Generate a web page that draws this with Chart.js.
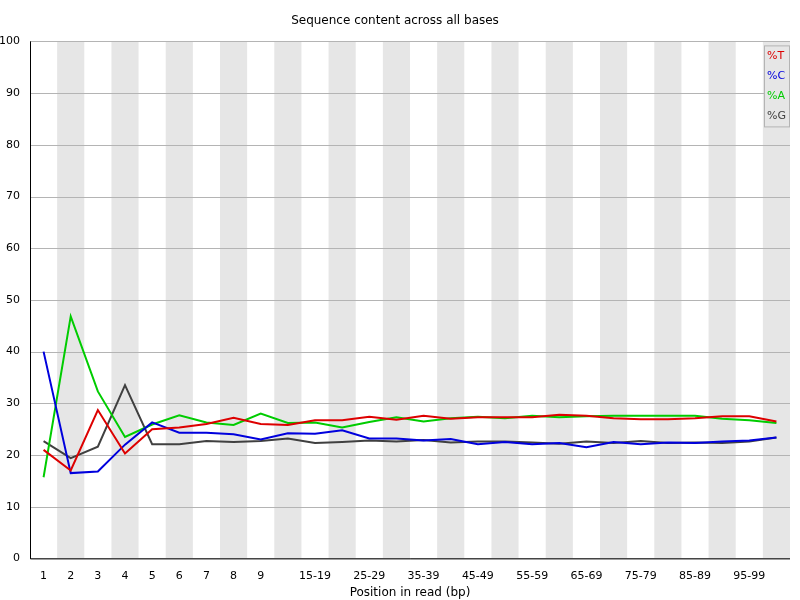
<!DOCTYPE html>
<html><head><meta charset="utf-8">
<script src="https://cdn.jsdelivr.net/npm/chart.js@4"></script>
<style>html,body{margin:0;background:#fff}#w{width:800px;height:600px}</style>
</head><body><div id="w"><canvas id="c"></canvas></div>
<script>
const categories=["1","2","3","4","5","6","7","8","9","10-14","15-19","20-24","25-29","30-34","35-39","40-44","45-49","50-54","55-59","60-64","65-69","70-74","75-79","80-84","85-89","90-94","95-99","100-101"];
const pctT=[21,17,28.7,20.3,25,25.3,26,27.2,26,25.8,26.7,26.7,27.4,26.8,27.6,27,27.3,27.3,27.3,27.8,27.6,27.1,26.9,26.9,27.1,27.5,27.5,26.5];
const pctC=[40,16.5,16.8,22,26.3,24.3,24.3,24,23,24.2,24.1,24.8,23.2,23.2,22.8,23.1,22.1,22.5,22.1,22.3,21.5,22.5,22.1,22.4,22.3,22.6,22.8,23.4];
const pctA=[15.7,46.8,32.3,23.5,25.9,27.7,26.3,25.8,28,26.2,26.3,25.3,26.4,27.3,26.5,27.1,27.4,27.1,27.6,27.3,27.5,27.6,27.6,27.6,27.6,27,26.7,26.2];
const pctG=[22.7,19.4,21.6,33.5,22.1,22.1,22.7,22.5,22.7,23.2,22.3,22.5,22.8,22.6,22.9,22.4,22.6,22.6,22.4,22.2,22.6,22.3,22.7,22.3,22.4,22.3,22.6,23.4];
const yTicks=[0,10,20,30,40,50,60,70,80,90,100];
const series=[["%T",pctT,"#dd0000"],["%C",pctC,"#0000dd"],["%A",pctA,"#00cc00"],["%G",pctG,"#404040"]];
const F="'DejaVu Sans',sans-serif";
const bands={id:"bands",beforeDatasetsDraw(ch){const {ctx,chartArea:a,scales:{x}}=ch;const w=a.width/categories.length;ctx.save();ctx.fillStyle="#e6e6e6";
for(let i=1;i<categories.length;i+=2)ctx.fillRect(a.left+i*w,a.top,w,a.height);
ctx.strokeStyle="#b4b4b4";ctx.lineWidth=1;const y=ch.scales.y;
yTicks.forEach(t=>{const py=Math.round(y.getPixelForValue(t))+0.5;ctx.beginPath();ctx.moveTo(a.left,py);ctx.lineTo(a.right,py);ctx.stroke();});
ctx.strokeStyle="#000";ctx.beginPath();ctx.moveTo(a.left+0.5,a.top);ctx.lineTo(a.left+0.5,a.bottom+0.5);ctx.lineTo(a.right,a.bottom+0.5);ctx.stroke();ctx.restore();}};
const leg={id:"leg",afterDatasetsDraw(ch){const {ctx,chartArea:a}=ch;ctx.save();const bx=a.right-26,by=a.top+4,bw=26,bh=82;
ctx.fillStyle="#e6e6e6";ctx.fillRect(bx,by,bw,bh);ctx.strokeStyle="#b4b4b4";ctx.strokeRect(bx+0.5,by+0.5,bw-1,bh-1);
ctx.font="11px "+F;ctx.textBaseline="middle";series.forEach((s,i)=>{ctx.fillStyle=s[2];ctx.fillText(s[0],bx+3,by+11+i*20);});ctx.restore();}};
new Chart(document.getElementById("c"),{type:"line",
data:{labels:categories,datasets:series.map(s=>({label:s[0],data:s[1],borderColor:s[2],borderWidth:2,pointRadius:0,tension:0}))},
options:{responsive:true,maintainAspectRatio:false,animation:false,
layout:{padding:{right:10,top:0}},
plugins:{legend:{display:false},tooltip:{enabled:false},
title:{display:true,text:"Sequence content across all bases",color:"#000",font:{family:F,size:12,weight:"normal"},padding:{top:14,bottom:13}}},
scales:{x:{offset:true,grid:{display:false},border:{display:false},title:{display:true,text:"Position in read (bp)",color:"#000",font:{family:F,size:12},padding:0},
ticks:{autoSkip:false,maxRotation:0,color:"#000",font:{family:F,size:11},callback:(v,i)=>(i<9||(i>=10&&i<27&&(i-10)%2==0))?categories[i]:""}},
y:{min:0,max:100,afterFit:s=>{s.width=30},afterBuildTicks:s=>{s.ticks=yTicks.map(v=>({value:v}))},grid:{display:false},border:{display:false},
ticks:{padding:2,color:"#000",font:{family:F,size:11}}}}},
plugins:[bands,leg]});
</script></body></html>
